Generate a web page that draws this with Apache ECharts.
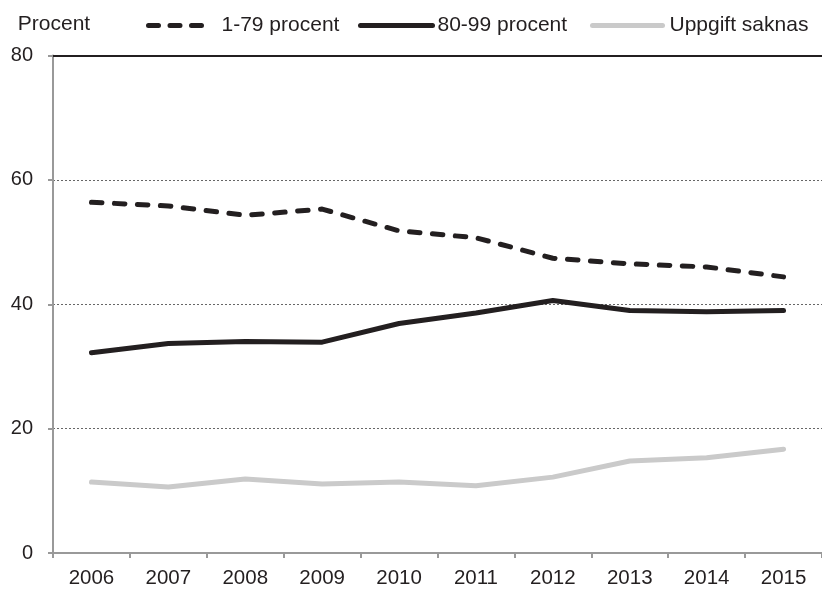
<!DOCTYPE html>
<html>
<head>
<meta charset="utf-8">
<script src="https://cdn.jsdelivr.net/npm/echarts@6/dist/echarts.min.js"></script>
<style>
html,body{margin:0;padding:0;background:#fff;}
#c{width:822px;height:589px;}
</style>
</head>
<body>
<div id="c"></div>
<script>
const years = ['2006','2007','2008','2009','2010','2011','2012','2013','2014','2015'];
const yTicks = [0, 20, 40, 60, 80];
const seriesNames = ['1-79 procent', '80-99 procent', 'Uppgift saknas'];
const low = [56.4, 55.8, 54.3, 55.3, 51.8, 50.7, 47.4, 46.5, 46.0, 44.4];
const high = [32.2, 33.7, 34.0, 33.9, 36.9, 38.6, 40.6, 39.0, 38.8, 39.0];
const missing = [11.4, 10.6, 11.9, 11.1, 11.4, 10.8, 12.2, 14.8, 15.3, 16.7];

const FONT = '"Liberation Sans", Arial, sans-serif';
const legendCfg = [
  {left: 146, width: 59, textPad: 9, type: [10, 11.5]},
  {left: 358, width: 72, textPad: 0, type: 'inherit'},
  {left: 590, width: 70, textPad: 2, type: 'inherit'}
];
function makeLegend(i) {
  const c = legendCfg[i];
  return {
    left: c.left, top: 15, padding: 0,
    itemWidth: c.width, itemHeight: 14, itemGap: 0,
    data: [seriesNames[i]],
    itemStyle: {opacity: 0, borderWidth: 0},
    lineStyle: {width: 5, cap: 'round', join: 'round', opacity: 1, type: c.type},
    textStyle: {fontFamily: FONT, fontSize: 21, color: '#231f20', padding: [0, 0, 0, c.textPad]}
  };
}
const chart = echarts.init(document.getElementById('c'), null, {renderer: 'canvas'});
chart.setOption({
  animation: false,
  backgroundColor: '#ffffff',
  textStyle: {fontFamily: FONT},
  grid: {left: 53, right: 0, top: 55.5, bottom: 36, containLabel: false},
  legend: [makeLegend(0), makeLegend(1), makeLegend(2)],
  xAxis: [{
    type: 'category',
    data: years,
    boundaryGap: true,
    axisLine: {lineStyle: {color: '#999999', width: 2}},
    axisTick: {show: true, length: 5, lineStyle: {color: '#999999', width: 2}},
    axisLabel: {fontFamily: FONT, fontSize: 20.5, color: '#231f20', margin: 15},
    splitLine: {show: false}
  }, {
    type: 'category',
    data: years,
    position: 'top',
    axisLine: {show: true, lineStyle: {color: '#231f20', width: 2}},
    axisTick: {show: false},
    axisLabel: {show: false},
    splitLine: {show: false}
  }],
  yAxis: {
    type: 'value',
    min: yTicks[0], max: yTicks[yTicks.length - 1], interval: 20,
    name: 'Procent',
    nameLocation: 'end',
    nameGap: 31,
    nameTextStyle: {fontFamily: FONT, fontSize: 21, color: '#231f20', align: 'center', verticalAlign: 'middle', padding: [0, 0, 0, 2]},
    axisLine: {show: true, lineStyle: {color: '#999999', width: 2}},
    axisTick: {show: true, length: 5, lineStyle: {color: '#999999', width: 2}},
    axisLabel: {fontFamily: FONT, fontSize: 20, color: '#231f20', margin: 20},
    splitLine: {show: true, lineStyle: {color: '#666666', width: 1, type: [2, 2]}}
  },
  series: [{
    name: seriesNames[0], type: 'line', data: low,
    symbol: 'none', showSymbol: false,
    lineStyle: {color: '#231f20', width: 5, type: [10.5, 12.5], cap: 'round', join: 'round'},
    itemStyle: {color: '#231f20'}
  }, {
    name: seriesNames[1], type: 'line', data: high,
    symbol: 'none', showSymbol: false,
    lineStyle: {color: '#231f20', width: 5, cap: 'round', join: 'round'},
    itemStyle: {color: '#231f20'}
  }, {
    name: seriesNames[2], type: 'line', data: missing,
    symbol: 'none', showSymbol: false,
    lineStyle: {color: '#cacaca', width: 5, cap: 'round', join: 'round'},
    itemStyle: {color: '#cacaca'}
  }]
});
</script>
</body>
</html>
